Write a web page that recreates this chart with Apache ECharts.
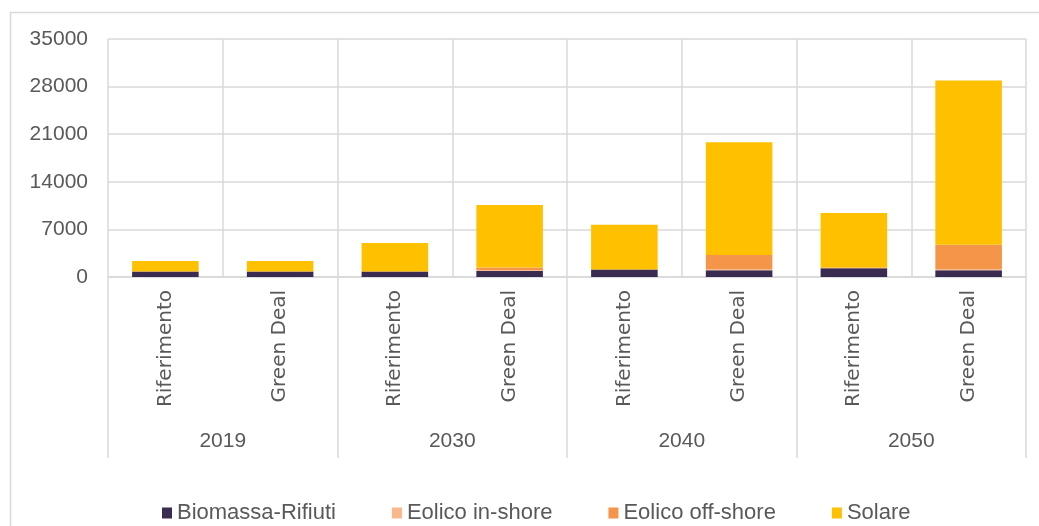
<!DOCTYPE html>
<html>
<head>
<meta charset="utf-8">
<title>Produzione rinnovabile per scenario</title>
<script src="https://cdn.jsdelivr.net/npm/echarts@6/dist/echarts.min.js"></script>
<style>
  html, body { margin: 0; padding: 0; background: #ffffff; }
  #chart { width: 1039px; height: 526px; }
</style>
</head>
<body>
<div id="chart"></div>
<script>
// Scenario labels (inner level) and years (outer level)
const scenarios = ['Riferimento', 'Green Deal', 'Riferimento', 'Green Deal',
                   'Riferimento', 'Green Deal', 'Riferimento', 'Green Deal'];
const years = ['2019', '2030', '2040', '2050'];

// Series values, one per scenario bar
const biomassaRifiuti = [800, 800, 800, 900, 1100, 1000, 1300, 1000];
const eolicoInShore   = [0, 0, 0, 100, 0, 150, 0, 150];
const eolicoOffShore  = [0, 0, 0, 400, 0, 2100, 100, 3600];
const solare          = [1550, 1550, 4200, 9200, 6600, 16550, 8000, 24150];

// Value axis ticks
const yMax = 35000;
const yStep = 7000;

const grey = '#d9d9d9';
const textGrey = '#595959';
const sansFont = "'Liberation Sans', Arial, sans-serif";

const chart = echarts.init(document.getElementById('chart'), null, { renderer: 'canvas' });

function barSeries(name, data, color) {
  return {
    name: name,
    type: 'bar',
    stack: 'total',
    xAxisIndex: 0,
    data: data,
    barCategoryGap: '42%',
    itemStyle: { color: color },
    emphasis: { disabled: true }
  };
}

chart.setOption({
  animation: false,
  backgroundColor: '#ffffff',
  graphic: [{
    type: 'rect',
    left: 8, top: 10,
    shape: { width: 1100, height: 600 },
    style: { fill: 'none', stroke: grey, lineWidth: 1.5 },
    silent: true
  }],
  grid: { left: 108, right: 13, top: 39, bottom: 249, containLabel: false },
  legend: {
    left: 157,
    top: 497,
    itemWidth: 10,
    itemHeight: 11,
    itemGap: 56,
    icon: 'rect',
    textStyle: { fontFamily: sansFont, fontSize: 22, color: textGrey, padding: [0, 0, 0, 0] },
    data: ['Biomassa-Rifiuti', 'Eolico in-shore', 'Eolico off-shore', 'Solare']
  },
  xAxis: [{
    type: 'category',
    data: scenarios,
    position: 'bottom',
    axisLine: { show: true, lineStyle: { color: grey, width: 1.5 } },
    axisTick: { show: false },
    splitLine: { show: true, interval: 0, lineStyle: { color: grey, width: 1.5 } },
    axisLabel: {
      interval: 0,
      rotate: 90,
      margin: 13,
      fontFamily: "'DejaVu Sans', sans-serif",
      fontSize: 20,
      color: textGrey
    }
  }, {
    type: 'category',
    data: years,
    position: 'bottom',
    axisLine: { show: false },
    axisTick: { show: true, interval: 0, length: 181, lineStyle: { color: grey, width: 1.5 } },
    axisLabel: {
      interval: 0,
      margin: 154,
      fontFamily: sansFont,
      fontSize: 21,
      color: textGrey
    },
    splitLine: { show: false }
  }],
  yAxis: {
    type: 'value',
    min: 0,
    max: yMax,
    interval: yStep,
    axisLine: { show: false },
    axisTick: { show: false },
    splitLine: { show: true, lineStyle: { color: grey, width: 1.5 } },
    axisLabel: {
      margin: 20,
      fontFamily: sansFont,
      fontSize: 21,
      color: textGrey,
      formatter: function (v) { return String(v); }
    }
  },
  series: [
    barSeries('Biomassa-Rifiuti', biomassaRifiuti, '#3a2b50'),
    barSeries('Eolico in-shore', eolicoInShore, '#f8b88c'),
    barSeries('Eolico off-shore', eolicoOffShore, '#f4954a'),
    barSeries('Solare', solare, '#ffc000')
  ]
});
</script>
</body>
</html>
